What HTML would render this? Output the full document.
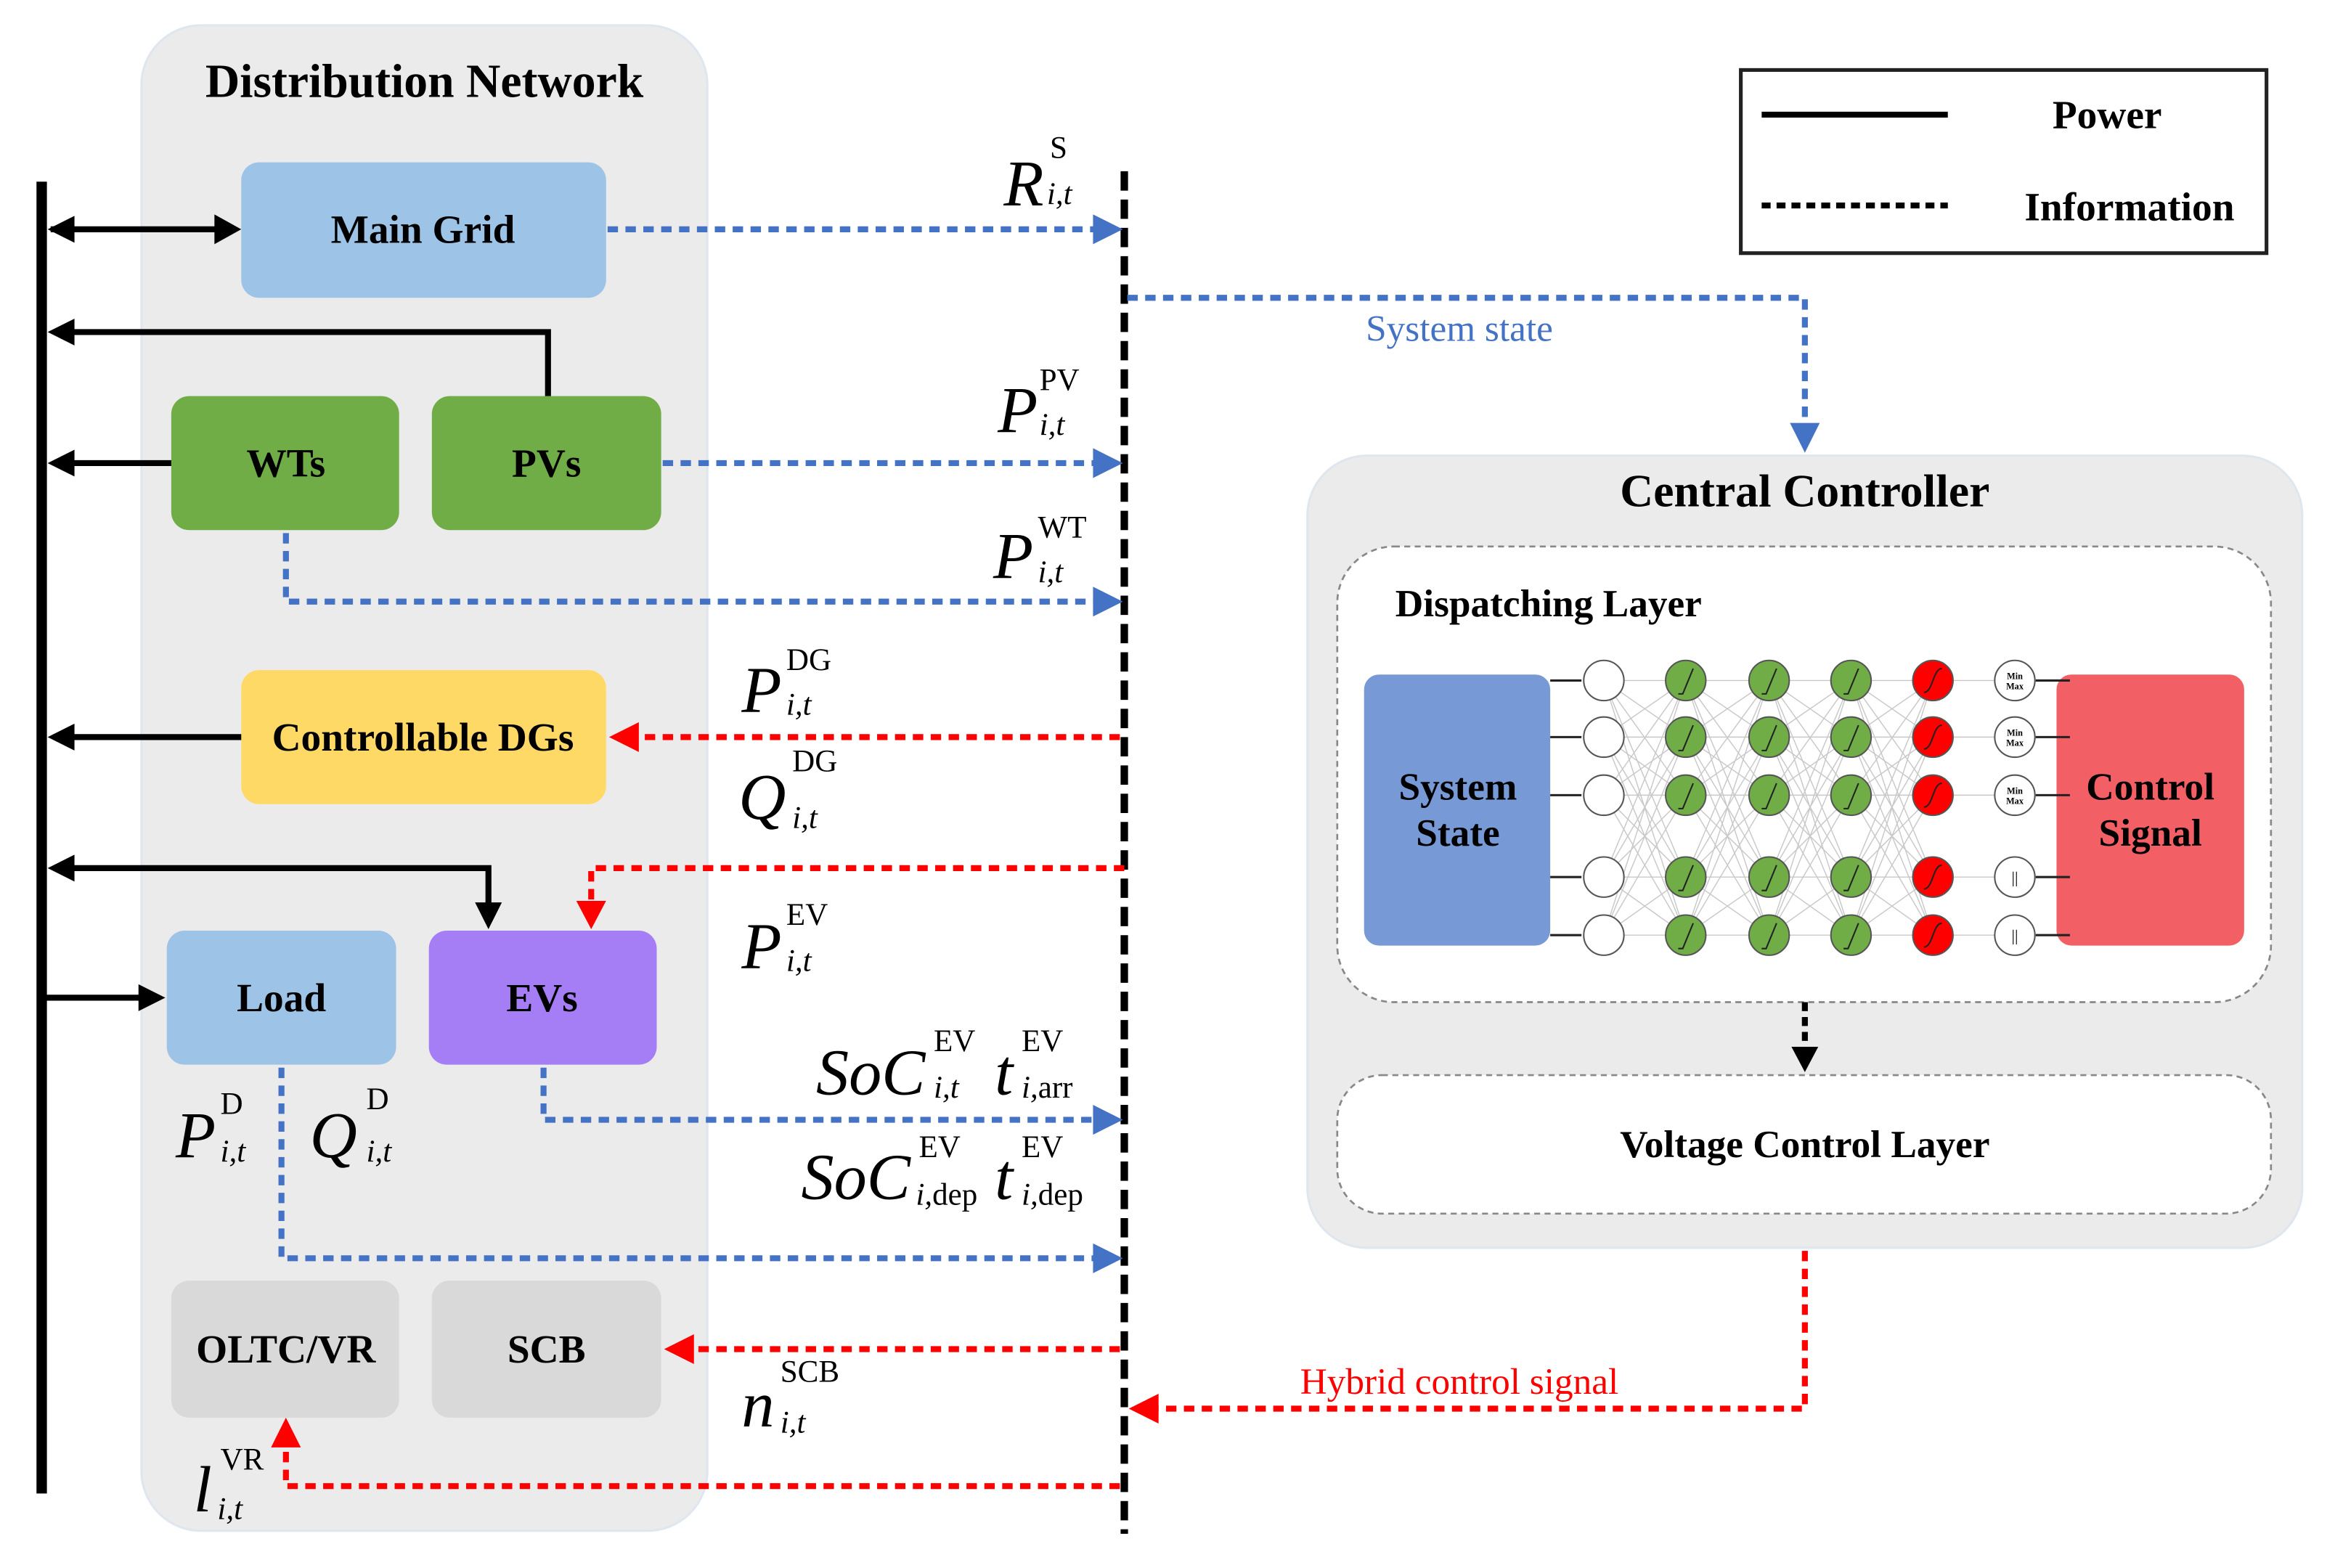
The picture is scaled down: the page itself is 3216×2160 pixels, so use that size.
<!DOCTYPE html>
<html><head><meta charset="utf-8"><style>
html,body{margin:0;padding:0;background:#fff;}
svg{display:block;}
.b{font-family:"Liberation Serif",serif;font-weight:bold;fill:#000;}
.m{font-family:"Liberation Serif",serif;font-style:italic;fill:#000;}
.s{font-family:"Liberation Serif",serif;fill:#000;}
</style></head><body>
<svg id="sv" width="3216" height="2160" viewBox="0 0 1568 1053" preserveAspectRatio="none" xmlns="http://www.w3.org/2000/svg">
<rect x="95" y="17" width="380" height="1011" rx="40" fill="#ebebeb" stroke="#dfe6ee" stroke-width="1.5"/>
<text x="285" y="65" class="b" font-size="32" text-anchor="middle">Distribution Network</text>
<rect x="878" y="306" width="668" height="532" rx="40" fill="#ebebeb" stroke="#dfe6ee" stroke-width="1.5"/>
<text x="1212" y="340" class="b" font-size="31" text-anchor="middle">Central Controller</text>

<line x1="28" y1="122" x2="28" y2="1003" stroke="#000" stroke-width="7"/>

<g stroke="none">
<rect x="162" y="109" width="245" height="91" rx="12" fill="#9dc3e6"/>
<rect x="115" y="266" width="153" height="90" rx="12" fill="#70ad47"/>
<rect x="290" y="266" width="154" height="90" rx="12" fill="#70ad47"/>
<rect x="162" y="450" width="245" height="90" rx="12" fill="#ffd966"/>
<rect x="112" y="625" width="154" height="90" rx="12" fill="#9dc3e6"/>
<rect x="288" y="625" width="153" height="90" rx="12" fill="#a57df4"/>
<rect x="115" y="860" width="153" height="92" rx="12" fill="#d9d9d9"/>
<rect x="290" y="860" width="154" height="92" rx="12" fill="#d9d9d9"/>
</g>
<g class="b" font-size="27" text-anchor="middle">
<text x="284" y="163">Main Grid</text>
<text x="192" y="320">WTs</text>
<text x="367" y="320">PVs</text>
<text x="284" y="504">Controllable DGs</text>
<text x="189" y="679">Load</text>
<text x="364" y="679">EVs</text>
<text x="192" y="915">OLTC/VR</text>
<text x="367" y="915">SCB</text>
</g>

<g stroke="#000" stroke-width="4" fill="none">
<line x1="34" y1="154" x2="150" y2="154"/>
<polyline points="368,266 368,223 36,223"/>
<line x1="115" y1="311" x2="36" y2="311"/>
<line x1="162" y1="495" x2="36" y2="495"/>
<polyline points="36,583 328,583 328,612"/>
<line x1="30" y1="670" x2="100" y2="670"/>
</g>
<g fill="#000">
<polygon points="32,154 50,145 50,163"/>
<polygon points="162,154 144,144 144,164"/>
<polygon points="32,223 50,214 50,232"/>
<polygon points="32,311 50,302 50,320"/>
<polygon points="32,495 50,486 50,504"/>
<polygon points="32,583 50,574 50,592"/>
<polygon points="328,624 319,606 337,606"/>
<polygon points="111,670 93,661 93,679"/>
</g>

<line x1="755" y1="115" x2="755" y2="1030" stroke="#000" stroke-width="5" stroke-dasharray="13 6"/>

<g stroke="#4472c4" stroke-width="4" fill="none" stroke-dasharray="7 5">
<line x1="408" y1="154" x2="738" y2="154"/>
<line x1="445" y1="311" x2="738" y2="311"/>
<polyline points="192,358 192,404 738,404"/>
<polyline points="365,717 365,752 738,752"/>
<polyline points="189,717 189,845 738,845"/>
<polyline points="757,200 1212,200 1212,288"/>
</g>
<g fill="#4472c4">
<polygon points="754,154 734,144 734,164"/>
<polygon points="754,311 734,301 734,321"/>
<polygon points="754,404 734,394 734,414"/>
<polygon points="754,752 734,742 734,762"/>
<polygon points="754,845 734,835 734,855"/>
<polygon points="1212,304 1202,284 1222,284"/>
</g>
<text x="980" y="229" class="s" font-size="25" style="fill:#4472c4" text-anchor="middle">System state</text>

<g stroke="#ff0000" stroke-width="4" fill="none" stroke-dasharray="7 5">
<line x1="752" y1="495" x2="425" y2="495"/>
<polyline points="755,583 397,583 397,610"/>
<line x1="752" y1="906" x2="462" y2="906"/>
<polyline points="752,998 192,998 192,968"/>
<polyline points="1212,840 1212,946 775,946"/>
</g>
<g fill="#ff0000">
<polygon points="409,495 429,485 429,505"/>
<polygon points="397,624 387,605 407,605"/>
<polygon points="446,906 466,896 466,916"/>
<polygon points="192,952 182,972 202,972"/>
<polygon points="758,946 778,936 778,956"/>
</g>
<text x="980" y="936" class="s" font-size="25" style="fill:#ff0000" text-anchor="middle">Hybrid control signal</text>

<rect x="898" y="367" width="627" height="306" rx="38" fill="#fff" stroke="#888" stroke-width="1.3" stroke-dasharray="4 3"/>
<text x="937" y="414" class="b" font-size="26">Dispatching Layer</text>
<rect x="898" y="722" width="627" height="93" rx="30" fill="#fff" stroke="#888" stroke-width="1.3" stroke-dasharray="4 3"/>
<text x="1212" y="777" class="b" font-size="26" text-anchor="middle">Voltage Control Layer</text>
<line x1="1212" y1="673" x2="1212" y2="706" stroke="#000" stroke-width="4" stroke-dasharray="6 4"/>
<polygon points="1212,720 1203,703 1221,703" fill="#000"/>

<rect x="916" y="453" width="125" height="182" rx="10" fill="#7799d6"/>
<rect x="1381" y="453" width="126" height="182" rx="10" fill="#f26065"/>
<text x="979" y="537" class="b" font-size="26" text-anchor="middle">System</text>
<text x="979" y="568" class="b" font-size="26" text-anchor="middle">State</text>
<text x="1444" y="537" class="b" font-size="26" text-anchor="middle">Control</text>
<text x="1444" y="568" class="b" font-size="26" text-anchor="middle">Signal</text>
<g id="nn"></g>

<rect x="1169" y="47" width="353" height="123" fill="#fff" stroke="#222" stroke-width="2.5"/>
<line x1="1183" y1="77" x2="1308" y2="77" stroke="#000" stroke-width="4"/>
<line x1="1183" y1="138" x2="1308" y2="138" stroke="#000" stroke-width="4" stroke-dasharray="6 4"/>
<text x="1415" y="86" class="b" font-size="27" text-anchor="middle">Power</text>
<text x="1430" y="148" class="b" font-size="27" text-anchor="middle">Information</text>

<g font-size="44" class="m">
<text x="674" y="138">R</text>
<text x="670" y="290">P</text>
<text x="667" y="388">P</text>
<text x="498" y="478">P</text>
<text x="496" y="550">Q</text>
<text x="498" y="650">P</text>
<text x="548" y="735">SoC</text>
<text x="668" y="735">t</text>
<text x="538" y="805">SoC</text>
<text x="668" y="805">t</text>
<text x="118" y="777">P</text>
<text x="208" y="777">Q</text>
<text x="498" y="958">n</text>
<text x="130" y="1015">l</text>
</g>
<g font-size="21" class="s">
<text x="705" y="106">S</text>
<text x="698" y="262">PV</text>
<text x="697" y="361">WT</text>
<text x="528" y="450">DG</text>
<text x="532" y="518">DG</text>
<text x="528" y="621">EV</text>
<text x="627" y="706">EV</text>
<text x="686" y="706">EV</text>
<text x="617" y="777">EV</text>
<text x="686" y="777">EV</text>
<text x="148" y="748">D</text>
<text x="246" y="745">D</text>
<text x="524" y="928">SCB</text>
<text x="148" y="987">VR</text>
</g>
<g font-size="21" class="s">
<text x="703" y="137"><tspan font-style="italic">i,t</tspan></text>
<text x="698" y="292"><tspan font-style="italic">i,t</tspan></text>
<text x="697" y="391"><tspan font-style="italic">i,t</tspan></text>
<text x="528" y="480"><tspan font-style="italic">i,t</tspan></text>
<text x="532" y="556"><tspan font-style="italic">i,t</tspan></text>
<text x="528" y="652"><tspan font-style="italic">i,t</tspan></text>
<text x="627" y="737"><tspan font-style="italic">i,t</tspan></text>
<text x="686" y="737"><tspan font-style="italic">i,</tspan>arr</text>
<text x="615" y="809"><tspan font-style="italic">i,</tspan>dep</text>
<text x="686" y="809"><tspan font-style="italic">i,</tspan>dep</text>
<text x="148" y="780"><tspan font-style="italic">i,t</tspan></text>
<text x="246" y="780"><tspan font-style="italic">i,t</tspan></text>
<text x="524" y="962"><tspan font-style="italic">i,t</tspan></text>
<text x="146" y="1020"><tspan font-style="italic">i,t</tspan></text>
</g>
</svg>
<script>
(function(){
var g=document.getElementById("nn");
var xs=[1077,1132,1188,1243,1298,1353],ys=[457,495,534,589,628],h="";
for(var c=0;c<xs.length-1;c++)for(var i=0;i<5;i++)for(var j=0;j<5;j++){
 if(c==4&&i!=j)continue;
 h+='<line x1="'+xs[c]+'" y1="'+ys[i]+'" x2="'+xs[c+1]+'" y2="'+ys[j]+'" stroke="#c8c8c8" stroke-width="0.7"/>';}
for(var i=0;i<5;i++){
 h+='<line x1="1041" y1="'+ys[i]+'" x2="1062" y2="'+ys[i]+'" stroke="#222" stroke-width="1.5"/>';
 h+='<line x1="1367" y1="'+ys[i]+'" x2="1390" y2="'+ys[i]+'" stroke="#222" stroke-width="1.5"/>';
 var cols=["#fff","#70ad47","#70ad47","#70ad47","#ff0000","#fff"];
 for(var c=0;c<6;c++){
  h+='<circle cx="'+xs[c]+'" cy="'+ys[i]+'" r="13.5" fill="'+cols[c]+'" stroke="#555" stroke-width="1"/>';
  if(c>=1&&c<=3)h+='<polyline points="'+(xs[c]-5)+','+(ys[i]+9)+' '+(xs[c]-2)+','+(ys[i]+9)+' '+(xs[c]+5)+','+(ys[i]-8)+'" fill="none" stroke="#222" stroke-width="1"/>';
  if(c==4)h+='<path d="M'+(xs[c]-6)+','+(ys[i]+8)+' C'+(xs[c])+','+(ys[i]+8)+' '+(xs[c])+','+(ys[i]-8)+' '+(xs[c]+6)+','+(ys[i]-8)+'" fill="none" stroke="#222" stroke-width="1"/>';
  if(c==5){ if(i<3) h+='<text x="1353" y="'+(ys[i]-1)+'" font-size="6" text-anchor="middle" font-family="Liberation Serif" font-weight="bold">Min</text><text x="1353" y="'+(ys[i]+6)+'" font-size="6" text-anchor="middle" font-family="Liberation Serif" font-weight="bold">Max</text>';
   else h+='<text x="1353" y="'+(ys[i]+4)+'" font-size="11" text-anchor="middle" font-family="Liberation Serif">||</text>';}
 }
}
g.innerHTML=h;
})();
</script>
</body></html>
